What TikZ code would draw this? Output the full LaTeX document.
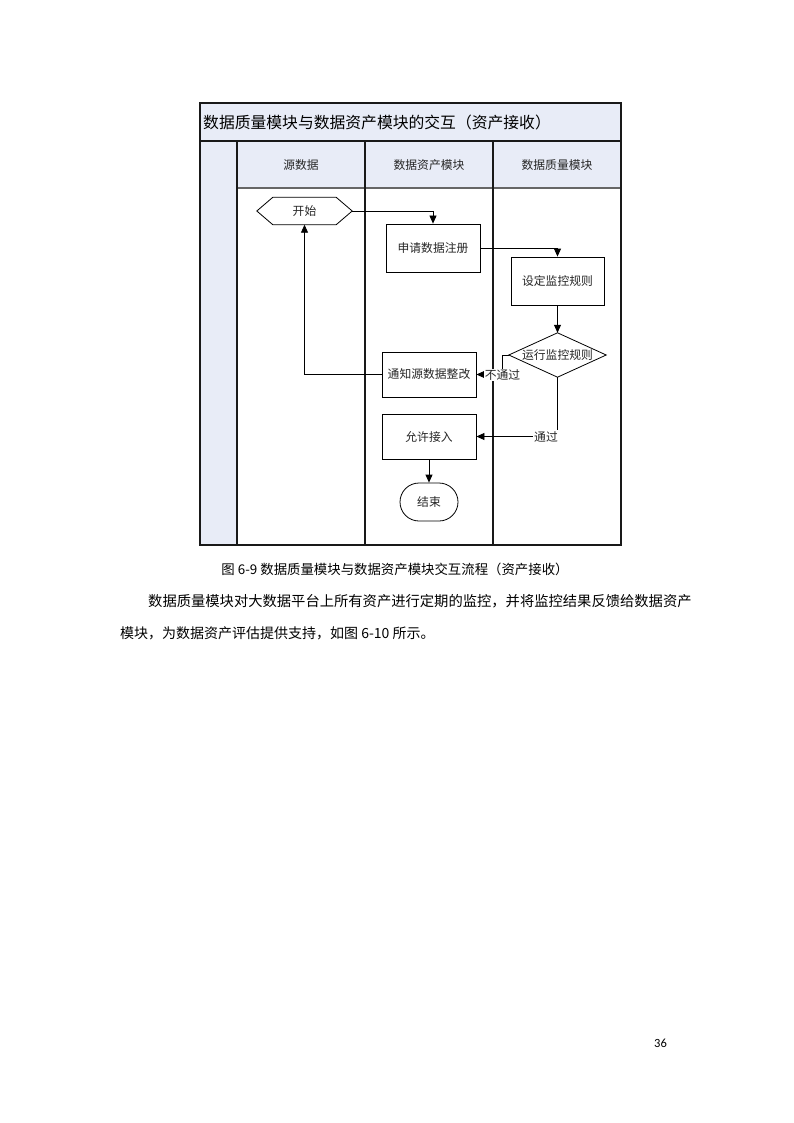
\documentclass[tikz,border=0pt]{standalone}
\usepackage{fontspec}
\setmainfont{Noto Sans CJK SC}
\newfontfamily\pagefont{Carlito}
\usetikzlibrary{arrows.meta}
\definecolor{lane}{RGB}{232,236,247}
\begin{document}
\begin{tikzpicture}[x=1pt,y=-1pt,
  txt/.style={font=\fontsize{11.8}{14}\selectfont, text=black!85},
  box/.style={txt, draw, line width=0.8pt, minimum width=94pt, minimum height=47pt, inner sep=0pt},
  flow/.style={draw, line width=0.8pt, -{Triangle[length=8pt,width=7pt]}},
  lbl/.style={txt, fill=white, inner sep=1pt},
  frame/.style={line width=1.6pt, black!90}]
\useasboundingbox (0,0) rectangle (794,1123);
\fill[white] (0,0) rectangle (794,1123);
% swimlane frame
\fill[lane] (200,103) rectangle (621,141);
\fill[lane] (200,141) rectangle (237,545);
\fill[lane] (237,141) rectangle (621,188);
\draw[line width=1.6pt, black!60] (237,188) -- (621,188);
\draw[frame] (200,141) -- (621,141);
\draw[frame] (237,141) -- (237,545);
\draw[frame] (365,141) -- (365,545);
\draw[frame] (493,141) -- (493,545);
\draw[frame] (200,103) rectangle (621,545);
\node[font=\fontsize{15.8}{18}\selectfont, anchor=west, inner sep=0pt] (title) at (203,122) {数据质量模块与数据资产模块的交互（资产接收）};
\node[txt] (h1) at (301,165) {源数据};
\node[txt] (h2) at (429,165) {数据资产模块};
\node[txt] (h3) at (557,165) {数据质量模块};
% nodes
\node[txt, minimum width=95pt, minimum height=27pt, inner sep=0pt] (start) at (304.5,211) {开始};
\draw[line width=0.8pt] (start.west) -- ([xshift=16pt]start.north west) -- ([xshift=-16pt]start.north east) -- (start.east) -- ([xshift=-16pt]start.south east) -- ([xshift=16pt]start.south west) -- cycle;
\node[box, minimum height=48pt] (reg) at (433,248) {申请数据注册};
\node[box, minimum width=93pt, minimum height=48pt] (set) at (557.5,281) {设定监控规则};
\node[txt, minimum width=97pt, minimum height=44pt, inner sep=0pt] (run) at (557.5,355) {运行监控规则};
\draw[line width=0.8pt] (run.north) -- (run.east) -- (run.south) -- (run.west) -- cycle;
\node[box, minimum height=45pt] (notify) at (429,374.5) {通知源数据整改};
\node[box, minimum height=45pt] (allow) at (429,436.5) {允许接入};
\node[txt, draw, line width=0.8pt, rounded corners=19pt, minimum width=58pt, minimum height=38pt, inner sep=0pt] (end) at (429,502) {结束};
% connectors
\draw[flow] (start.east) -| (reg.north);
\draw[flow] (reg.east) -| (set.north);
\draw[flow] (set.south) -- (run.north);
\coordinate (nb) at (502,374.5);
\draw[flow] (run.west) -| (nb) -- (notify.east);
\node[lbl] (l1) at (502.5,375) {不通过};
\draw[flow] (run.south) |- (allow.east);
\node[lbl] (l2) at (546,436.5) {通过};
\draw[flow] (allow.south) -- (end.north);
\draw[flow] (notify.west) -| (start.south);
% text
\node[font=\fontsize{13.4}{15}\selectfont] (cap) at (395,569) {图 6-9 数据质量模块与数据资产模块交互流程（资产接收）};
\node[font=\fontsize{14.3}{17}\selectfont, anchor=west, inner sep=0pt] (p1) at (148,601) {数据质量模块对大数据平台上所有资产进行定期的监控，并将监控结果反馈给数据资产};
\node[font=\fontsize{14}{17}\selectfont, anchor=west, inner sep=0pt] (p2) at (120,633) {模块，为数据资产评估提供支持，如图 6-10 所示。};
\node[font=\pagefont\fontsize{12.5}{14}\selectfont, anchor=west, inner sep=0pt] (pg) at (654,1043) {36};
\end{tikzpicture}
\end{document}
